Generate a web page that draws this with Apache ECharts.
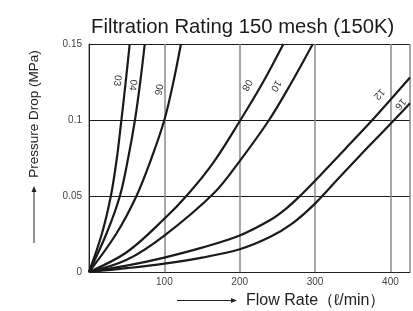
<!DOCTYPE html>
<html>
<head>
    <meta charset="utf-8">
    <title>Filtration Rating 150 mesh</title>
    <script src="https://cdn.jsdelivr.net/npm/echarts@6/dist/echarts.min.js"></script>
    <style>
        html, body { margin: 0; padding: 0; background: #fff; }
        #main { width: 413px; height: 311px; }
    </style>
</head>
<body>
    <div id="main"></div>
    <script type="text/javascript">
        // element names (curve labels)
        var curveNames = ['03', '04', '06', '08', '10', '12', '16'];

        // [flow l/min, pressure drop MPa]
        var curve03 = [[0, 0], [17, 0.025], [29, 0.05], [37, 0.075], [43, 0.1], [48.7, 0.125], [54, 0.15]];
        var curve04 = [[0, 0], [23, 0.025], [41, 0.05], [52, 0.075], [61, 0.1], [68, 0.125], [74, 0.15]];
        var curve06 = [[0, 0], [36, 0.025], [63, 0.05], [83, 0.075], [100, 0.1], [112, 0.125], [122, 0.15]];
        var curve08 = [[0, 0], [50, 0.013], [100, 0.035], [131, 0.051], [165, 0.072], [201, 0.1], [230, 0.124], [258, 0.15]];
        var curve10 = [[0, 0], [50, 0.008], [100, 0.024], [166, 0.052], [200, 0.073], [239, 0.1], [268, 0.124], [297, 0.15]];
        var curve12 = [[0, 0], [50, 0.0042], [100, 0.0095], [150, 0.016], [200, 0.024], [240, 0.034], [260, 0.041],
                       [280, 0.05], [300, 0.06], [340, 0.081], [376, 0.1], [426, 0.128]];
        var curve16 = [[0, 0], [50, 0.0025], [100, 0.0055], [150, 0.0095], [200, 0.015], [240, 0.023], [270, 0.032],
                       [300, 0.045], [330, 0.061], [370, 0.082], [405, 0.1], [426, 0.111]];

        var allCurves = [curve03, curve04, curve06, curve08, curve10, curve12, curve16];

        // axis ticks
        var xTicks = [100, 200, 300, 400];
        var yTicks = [0, 0.05, 0.1, 0.15];

        var myChart = echarts.init(document.getElementById('main'));

        // where each curve name sits, and its angle
        var labelAt = [
            [[37.5, 0.126], -96],
            [[58, 0.123], -97],
            [[92, 0.12], -102],
            [[209.5, 0.123], -120],
            [[248, 0.1225], -120],
            [[385, 0.117], -132],
            [[413, 0.1105], -132]
        ];

        var series = allCurves.map(function (pts, i) {
            return {
                type: 'line',
                name: curveNames[i],
                data: pts,
                smooth: 0.35,
                showSymbol: false,
                silent: true,
                lineStyle: { color: '#1a1a1a', width: 2.2 },
                markPoint: {
                    symbol: 'circle',
                    symbolSize: 0,
                    silent: true,
                    data: [{ coord: labelAt[i][0], value: curveNames[i] }],
                    label: {
                        show: true,
                        position: 'inside',
                        formatter: curveNames[i],
                        rotate: labelAt[i][1],
                        fontSize: 10,
                        fontFamily: 'Liberation Sans',
                        color: '#333'
                    }
                }
            };
        });

        var option = {
            animation: false,
            title: {
                text: 'Filtration Rating 150 mesh (150K)',
                left: 86,
                top: 12,
                textStyle: {
                    fontFamily: 'Liberation Sans',
                    fontSize: 20.3,
                    fontWeight: 'normal',
                    color: '#1a1a1a'
                }
            },
            grid: { left: 89, top: 44, right: 0, bottom: 39 },
            xAxis: {
                type: 'value',
                min: 0,
                max: 426,
                interval: 100,
                axisLine: { lineStyle: { color: '#222', width: 1 } },
                axisTick: { show: false },
                axisLabel: {
                    margin: 5,
                    fontSize: 10,
                    fontFamily: 'Liberation Sans',
                    color: '#444',
                    formatter: function (v) {
                        return xTicks.indexOf(v) >= 0 ? String(v) : '';
                    }
                },
                splitLine: { lineStyle: { color: '#8a8a8a', width: 1.5 } }
            },
            yAxis: {
                type: 'value',
                min: 0,
                max: 0.15,
                interval: 0.05,
                axisLine: { show: true, lineStyle: { color: '#222', width: 1 } },
                axisTick: { show: false },
                axisLabel: {
                    margin: 7,
                    fontSize: 10,
                    fontFamily: 'Liberation Sans',
                    color: '#444',
                    formatter: function (v) {
                        var t = Math.round(v * 100) / 100;
                        return yTicks.indexOf(t) >= 0 ? String(t) : '';
                    }
                },
                splitLine: { lineStyle: { color: '#1a1a1a', width: 1 } }
            },
            graphic: [
                // y axis title with arrow
                { type: 'line', shape: { x1: 34, y1: 243, x2: 34, y2: 191 }, style: { stroke: '#222', lineWidth: 1 } },
                { type: 'polygon', shape: { points: [[34, 186], [31.5, 192], [36.5, 192]] }, style: { fill: '#222' } },
                {
                    type: 'text', x: 34, y: 114, rotation: Math.PI / 2,
                    style: {
                        text: 'Pressure Drop (MPa)', fontSize: 13.5, fontFamily: 'Liberation Sans',
                        fill: '#222', align: 'center', verticalAlign: 'middle'
                    }
                },
                // x axis title with arrow
                { type: 'line', shape: { x1: 177, y1: 300.5, x2: 231, y2: 300.5 }, style: { stroke: '#222', lineWidth: 1 } },
                { type: 'polygon', shape: { points: [[237, 300.5], [231, 298], [231, 303]] }, style: { fill: '#222' } },
                {
                    type: 'text', x: 246, y: 300.5,
                    style: {
                        text: 'Flow Rate（ℓ/min）', fontSize: 16, fontFamily: 'Liberation Sans',
                        fill: '#222', align: 'left', verticalAlign: 'middle'
                    }
                }
            ],
            series: series
        };
        myChart.setOption(option);
    </script>
</body>
</html>
